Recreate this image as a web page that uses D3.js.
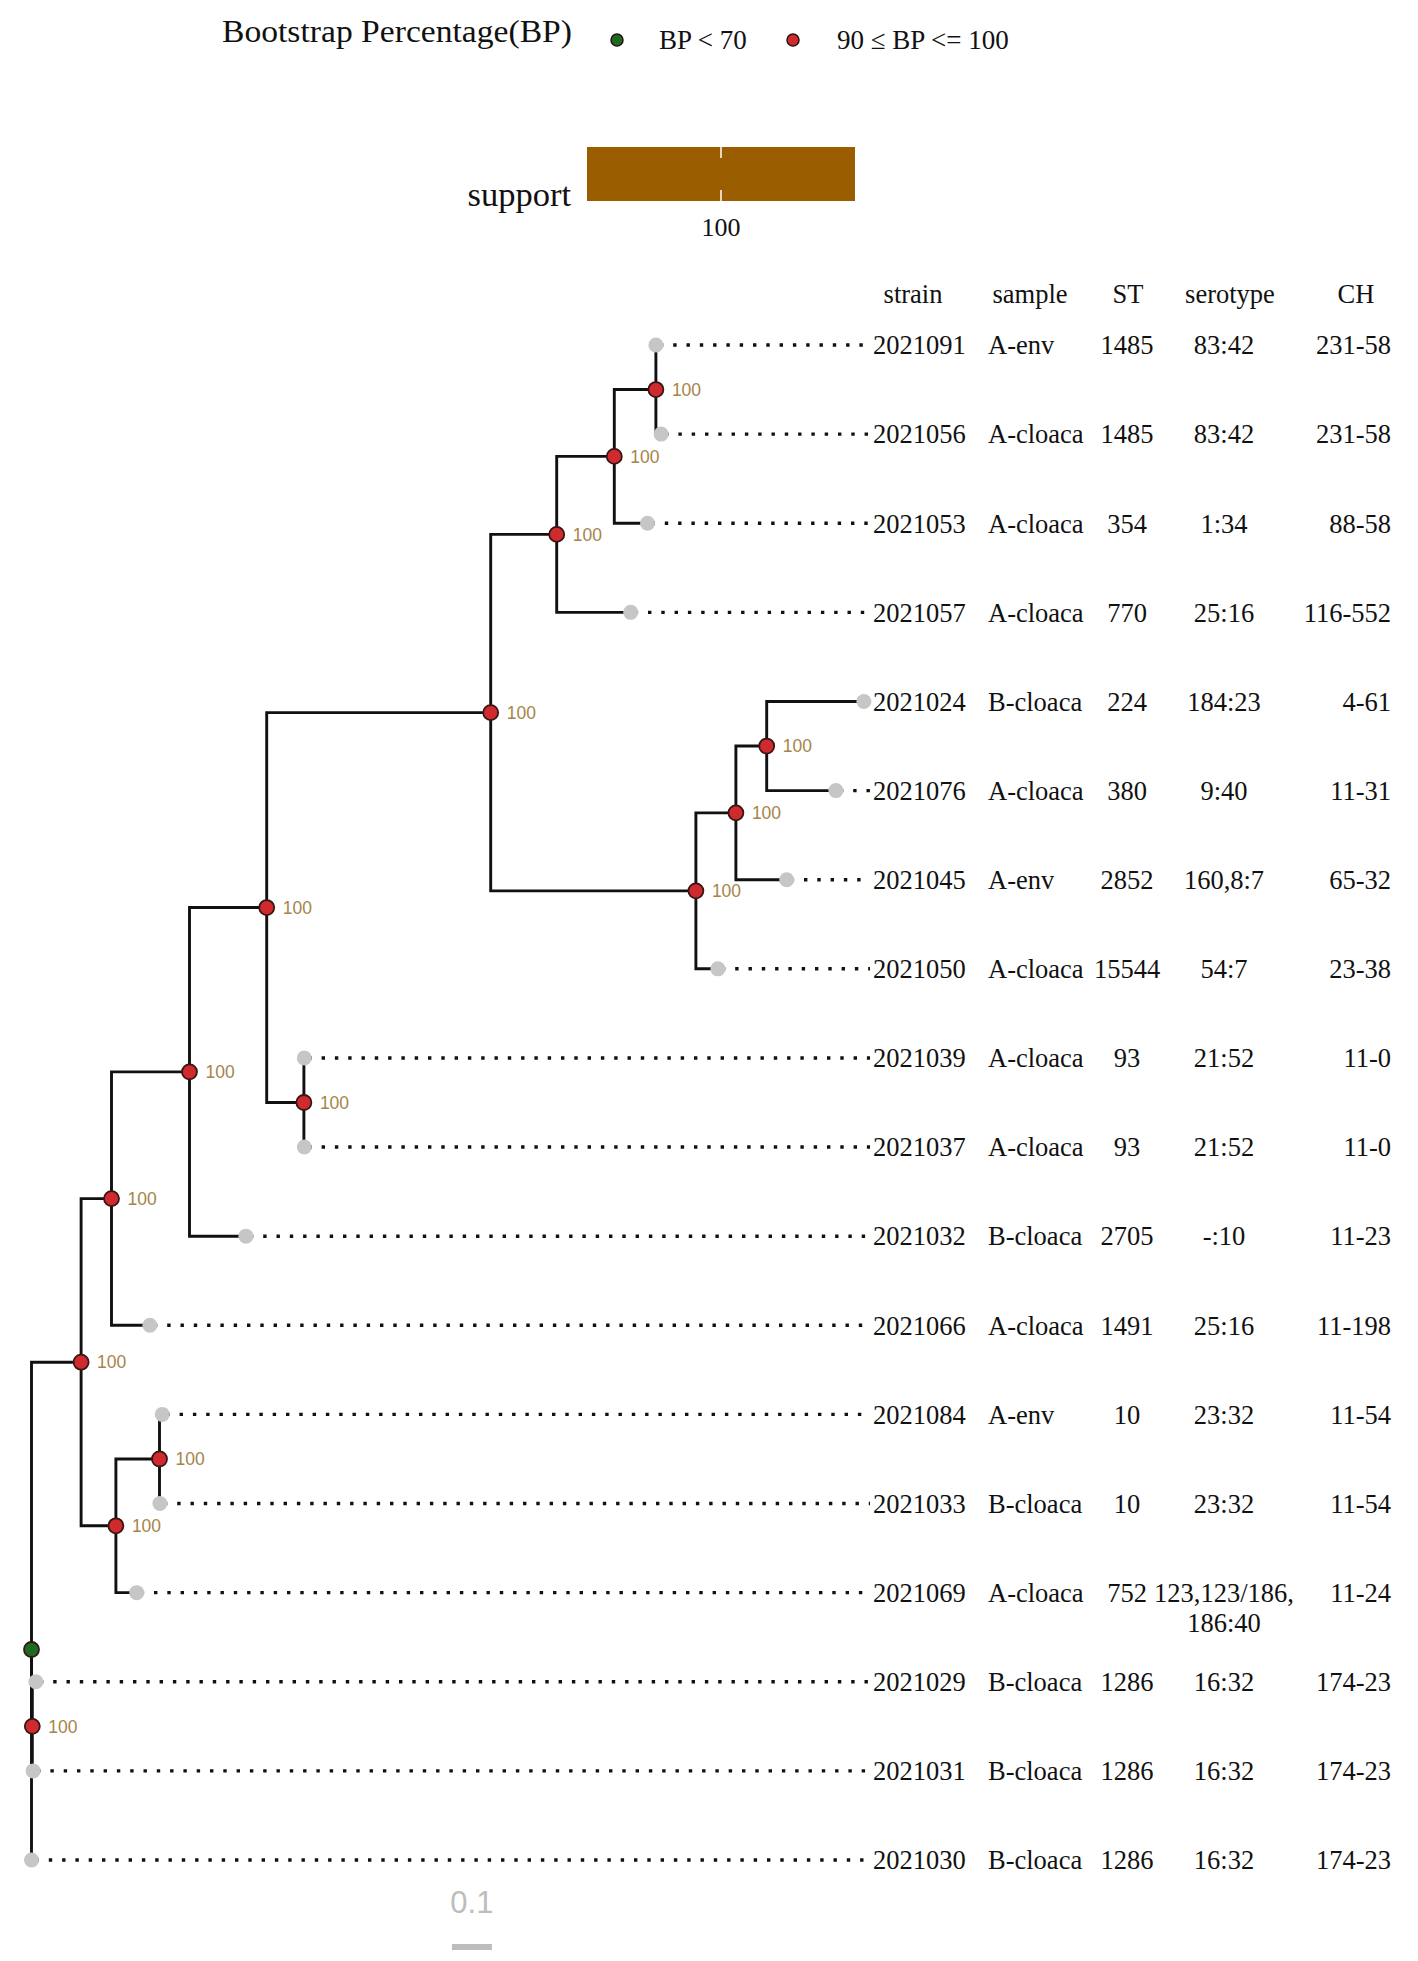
<!DOCTYPE html>
<html>
<head>
<meta charset="utf-8">
<script src="https://cdn.jsdelivr.net/npm/d3@7"></script>
<style>
  body { margin: 0; background: #fff; }
  .serif { font-family: 'Liberation Serif', 'Times New Roman', serif; fill: #111; }
  .sans { font-family: 'Liberation Sans', Arial, sans-serif; }
</style>
</head>
<body>
<script>
const W = 1418;
const H = 1961;

// tree: one row per node, parent given by id, depth = distance from root
const nodeIds = ['root', 'nA', 'nB', 'nC', 'nD', 'nE', 'nF', 'nG', 'nH', '2021091', '2021056', '2021053', '2021057',
  'nI', 'nJ', 'nK', '2021024', '2021076', '2021045', '2021050', 'nL', '2021039', '2021037', '2021032', '2021066',
  'nM', 'nN', '2021084', '2021033', '2021069', 'nO', '2021029', '2021031', '2021030'];
const parentIds = ['', 'root', 'nA', 'nB', 'nC', 'nD', 'nE', 'nF', 'nG', 'nH', 'nH', 'nG', 'nF',
  'nE', 'nI', 'nJ', 'nK', 'nK', 'nJ', 'nI', 'nD', 'nL', 'nL', 'nC', 'nB',
  'nA', 'nM', 'nN', 'nN', 'nM', 'root', 'nO', 'nO', 'root'];
const nodeDepth = [0, 0.124, 0.200, 0.395, 0.588, 1.148, 1.313, 1.457, 1.561, 1.561, 1.574, 1.540, 1.498,
  1.661, 1.761, 1.838, 2.081, 2.011, 1.888, 1.716, 0.681, 0.682, 0.682, 0.536, 0.296,
  0.211, 0.320, 0.327, 0.321, 0.263, 0.002, 0.011, 0.004, 0];
const nodeSupport = [null, 100, 100, 100, 100, 100, 100, 100, 100, null, null, null, null,
  100, 100, 100, null, null, null, null, 100, null, null, null, null,
  100, 100, null, null, null, 100, null, null, null];

// tip table, top to bottom
const tipNames = ['2021091', '2021056', '2021053', '2021057', '2021024', '2021076', '2021045', '2021050', '2021039',
  '2021037', '2021032', '2021066', '2021084', '2021033', '2021069', '2021029', '2021031', '2021030'];
const samples = ['A-env', 'A-cloaca', 'A-cloaca', 'A-cloaca', 'B-cloaca', 'A-cloaca', 'A-env', 'A-cloaca', 'A-cloaca',
  'A-cloaca', 'B-cloaca', 'A-cloaca', 'A-env', 'B-cloaca', 'A-cloaca', 'B-cloaca', 'B-cloaca', 'B-cloaca'];
const stValues = ['1485', '1485', '354', '770', '224', '380', '2852', '15544', '93',
  '93', '2705', '1491', '10', '10', '752', '1286', '1286', '1286'];
const serotypes = ['83:42', '83:42', '1:34', '25:16', '184:23', '9:40', '160,8:7', '54:7', '21:52',
  '21:52', '-:10', '25:16', '23:32', '23:32', '123,123/186,\n186:40', '16:32', '16:32', '16:32'];
const chValues = ['231-58', '231-58', '88-58', '116-552', '4-61', '11-31', '65-32', '23-38', '11-0',
  '11-0', '11-23', '11-198', '11-54', '11-54', '11-24', '174-23', '174-23', '174-23'];
const headers = ['strain', 'sample', 'ST', 'serotype', 'CH'];

const scaleBarValue = 0.1;
const scaleBarAt = 1.051;
const supportLegendTicks = [100];

const lineColor = '#111';
const redNode = '#cf2b2f';
const greenNode = '#1d6b21';
const tipColor = '#c6c6c6';
const supportColor = '#9a5e00';
const labelColor = '#a5844a';

const svg = d3.select('body').
append('svg').
attr('width', W).
attr('height', H).
style('display', 'block');

svg.append('rect').attr('width', W).attr('height', H).attr('fill', '#fff');

const x = d3.scaleLinear().domain([0, 0.1]).range([31.5, 71.5]);
const y = d3.scaleLinear().domain([0, tipNames.length - 1]).range([345, 1860]);
const alignX = 870;

// build hierarchy
const rows = nodeIds.map((id, i) => ({ id: id, parent: parentIds[i], depth: nodeDepth[i], support: nodeSupport[i] }));
const root = d3.stratify().id(d => d.id).parentId(d => d.parent || null)(rows);

root.eachAfter(n => {
  n.px = x(n.data.depth);
  if (!n.children) {
    n.py = y(tipNames.indexOf(n.id));
  } else {
    n.py = d3.mean(n.children, c => c.py);
  }
});

const nodes = root.descendants();
const tips = root.leaves();
const inner = nodes.filter(n => n.children);

// branches: vertical at parent x, then horizontal out to child
svg.append('g').
selectAll('path').
data(nodes.filter(n => n.parent)).
enter().
append('path').
attr('d', n => 'M' + n.parent.px + ',' + n.parent.py + 'V' + n.py + 'H' + n.px).
attr('fill', 'none').
attr('stroke', lineColor).
attr('stroke-width', 2.9).
attr('stroke-linecap', 'square');

// dotted lines to aligned labels
svg.append('g').
selectAll('line').
data(tips).
enter().
append('line').
attr('x1', n => n.px + 4).
attr('x2', alignX).
attr('y1', n => n.py).
attr('y2', n => n.py).
attr('stroke', lineColor).
attr('stroke-width', 3.4).
attr('stroke-dasharray', '3.4 9.9');

// tip points
svg.append('g').
selectAll('circle').
data(tips).
enter().
append('circle').
attr('cx', n => n.px).
attr('cy', n => n.py).
attr('r', 7.5).
attr('fill', tipColor);

// internal node points
svg.append('g').
selectAll('circle').
data(inner).
enter().
append('circle').
attr('cx', n => n.px).
attr('cy', n => n.py).
attr('r', 7.5).
attr('fill', n => n.data.support != null && n.data.support >= 90 ? redNode : greenNode).
attr('stroke', '#3a1515').
attr('stroke-width', 1.8);

// support labels
svg.append('g').
selectAll('text').
data(inner.filter(n => n.data.support != null)).
enter().
append('text').
attr('class', 'sans').
attr('x', n => n.px + 16).
attr('y', n => n.py).
attr('dy', '0.36em').
attr('font-size', 17.5).
attr('fill', labelColor).
text(n => n.data.support);

// table columns
const cols = [
{ values: tipNames, x: 873, anchor: 'start' },
{ values: samples, x: 988, anchor: 'start' },
{ values: stValues, x: 1127, anchor: 'middle' },
{ values: serotypes, x: 1224, anchor: 'middle' },
{ values: chValues, x: 1391, anchor: 'end' }];

const headerX = [913, 1030, 1128, 1230, 1356];

const table = svg.append('g').attr('font-size', 26.5);

table.selectAll('text.head').
data(headers).
enter().
append('text').
attr('class', 'serif head').
attr('x', (d, i) => headerX[i]).
attr('y', 294).
attr('dy', '0.35em').
attr('text-anchor', 'middle').
text(d => d);

cols.forEach(col => {
  table.append('g').
  selectAll('text').
  data(col.values).
  enter().
  append('text').
  attr('class', 'serif').
  attr('text-anchor', col.anchor).
  attr('x', col.x).
  attr('y', (d, i) => y(i)).
  each(function (d) {
    const lines = d.split('\n');
    d3.select(this).selectAll('tspan').
    data(lines).
    enter().
    append('tspan').
    attr('x', col.x).
    attr('dy', (l, j) => j === 0 ? '0.35em' : '1.12em').
    text(l => l);
  });
});

// BP legend
const legend = svg.append('g');
legend.append('text').
attr('class', 'serif').
attr('x', 222).
attr('y', 42).
attr('font-size', 32).
attr('textLength', 350).
attr('lengthAdjust', 'spacingAndGlyphs').
text('Bootstrap Percentage(BP)');

const legItems = [
{ label: 'BP < 70', color: greenNode, cx: 617, tx: 659 },
{ label: '90 ≤ BP <= 100', color: redNode, cx: 793, tx: 837 }];

legItems.forEach(it => {
  legend.append('circle').
  attr('cx', it.cx).
  attr('cy', 40).
  attr('r', 6).
  attr('fill', it.color).
  attr('stroke', '#2a1010').
  attr('stroke-width', 1.5);
  legend.append('text').
  attr('class', 'serif').
  attr('x', it.tx).
  attr('y', 49).
  attr('font-size', 27).
  text(it.label);
});

// support colour bar
const barX = d3.scaleLinear().domain([99.5, 100.5]).range([587, 855]);
const sup = svg.append('g');
sup.append('rect').
attr('x', barX(99.5)).
attr('y', 147).
attr('width', barX(100.5) - barX(99.5)).
attr('height', 54).
attr('fill', supportColor);

sup.selectAll('line.tk').
data(supportLegendTicks.flatMap(t => [[t, 147, 158], [t, 190, 201]])).
enter().
append('line').
attr('x1', d => barX(d[0])).
attr('x2', d => barX(d[0])).
attr('y1', d => d[1]).
attr('y2', d => d[2]).
attr('stroke', '#fff').
attr('stroke-width', 1.5);

sup.selectAll('text.tl').
data(supportLegendTicks).
enter().
append('text').
attr('class', 'serif').
attr('x', d => barX(d)).
attr('y', 236).
attr('text-anchor', 'middle').
attr('font-size', 26).
text(d => d);

sup.append('text').
attr('class', 'serif').
attr('x', 571).
attr('y', 206).
attr('text-anchor', 'end').
attr('font-size', 34.5).
text('support');

// scale bar
svg.append('text').
attr('class', 'sans').
attr('x', (x(scaleBarAt) + x(scaleBarAt + scaleBarValue)) / 2).
attr('y', 1913).
attr('text-anchor', 'middle').
attr('font-size', 31).
attr('fill', '#bdbdbd').
text(scaleBarValue);

svg.append('line').
attr('x1', x(scaleBarAt)).
attr('x2', x(scaleBarAt + scaleBarValue)).
attr('y1', 1947).
attr('y2', 1947).
attr('stroke', '#bdbdbd').
attr('stroke-width', 6);
</script>
</body>
</html>
